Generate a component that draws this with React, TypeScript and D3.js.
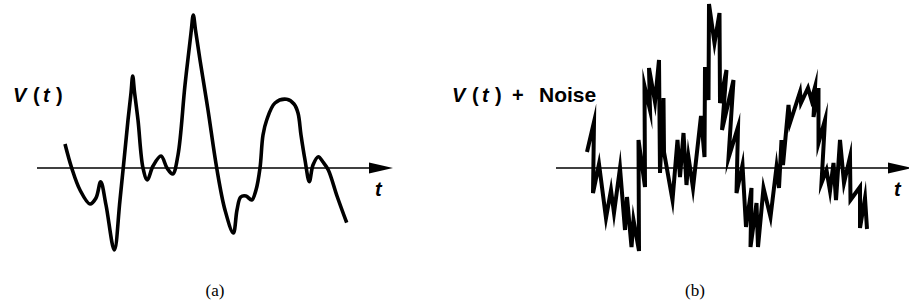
import React from "react";
import * as d3 from "d3";

// (a) smooth signal: time (px-like units from axis start) and value (above axis positive)
const tA = [28, 34.7, 43, 53, 59, 63.7, 69, 77.3, 83, 91, 94, 95.7, 97.5, 101, 106, 110.3, 116, 124, 130, 135.7, 141, 148, 154, 156.3, 158.5, 163, 171, 179.7, 188, 196.3, 200, 203.7, 209, 214.7, 219, 223, 226, 229.7, 238, 249.7, 257, 261, 264, 268, 272.3, 276, 281.3, 286, 291.3, 300, 309.7];
const vA = [24, 0, -22, -36, -30, -13.7, -37, -82, -32, 48, 75, 92, 76, 48, 0, -12, 2, 12, 0, -6, 13, 83, 135, 153, 138, 108, 58, 0, -42, -65, -42, -29, -28, -32, -22, 0, 33, 48, 65, 68.7, 64, 55, 33, 8, -13.7, 3, 11.3, 6, -2, -28, -54.7];

// (b) signal + noise
const tB = [31, 38, 37, 43, 50, 55, 58, 64, 69, 71, 75.5, 77.5, 83, 82.5, 89, 88.5, 94, 93, 99, 103, 104, 107.5, 108, 116.5, 121.5, 124, 127.5, 130.5, 132.5, 137, 145, 148.5, 149, 152.5, 153, 158.5, 163.5, 164, 170.5, 166, 177.5, 172.5, 182, 180.5, 186.5, 190, 195.5, 194.5, 200.5, 202, 207.5, 214.5, 220.5, 223, 225.5, 227, 232.5, 234, 244, 245, 252, 255.5, 259, 257.5, 262.5, 262.5, 269, 265.5, 270.5, 274, 277.5, 280, 284, 288, 294, 294.5, 304, 304, 309, 311];
const vB = [16, 46, -25, 4, -50, -22, -45, 0, -62, -29, -79, -52, -83, 28, -19, 82, 58, 100, 66, 108, -5, 70, 16, -32, 28, -9, 35, -17, 11, -20, 52, 11, 101, 68, 164, 125, 155, 65, 98, 38, 88, 10, 41, -25, 3, -59, -20, -79, -35, -79, -20, -49, 1, -20, 28, 3, 63, 45, 76, 65, 80, 68, 81, 51, 80, 25, 48, -15, -2, -23, 5, -32, 28, -15, 11, -32, -19, -60, -30, -61];

const W = 909;
const H = 307;

function Label({ x0, y, noise }: { x0: number; y: number; noise?: boolean }) {
  const base = {
    fontFamily: "'Liberation Sans', Arial, sans-serif",
    fontWeight: 700,
    fontSize: 20,
    fill: "#000",
  } as const;
  return (
    <g>
      <text x={x0} y={y} {...base} fontStyle="italic">V</text>
      <text x={x0 + 20} y={y} {...base}>(</text>
      <text x={x0 + 30} y={y} {...base} fontStyle="italic">t</text>
      <text x={x0 + 43} y={y} {...base}>)</text>
      {noise && (
        <>
          <text x={x0 + 60} y={y} {...base}>+</text>
          <text x={x0 + 87} y={y} {...base} fontSize={21}>Noise</text>
        </>
      )}
    </g>
  );
}

function Axis({ x1, x2, y }: { x1: number; x2: number; y: number }) {
  const head = 24;
  return (
    <g>
      <line x1={x1} x2={x2 - head + 2} y1={y} y2={y} stroke="#000" strokeWidth={1.4} />
      <path d={`M${x2 - head},${y - 5.5} L${x2},${y} L${x2 - head},${y + 5.5} Z`} fill="#000" />
      <text
        x={x2 - 18}
        y={y + 28}
        fontFamily="'Liberation Sans', Arial, sans-serif"
        fontWeight={700}
        fontStyle="italic"
        fontSize={20}
      >
        t
      </text>
    </g>
  );
}

export default function App() {
  const axisY = 168;
  const y = d3.scaleLinear().domain([-100, 160]).range([axisY + 100, axisY - 160]);

  const xA = d3.scaleLinear().domain([0, 356]).range([37, 393]);
  const xB = d3.scaleLinear().domain([0, 356]).range([556, 912]);

  const lineA = d3
    .line<number>()
    .x((_, i) => xA(tA[i]))
    .y((v) => y(v))
    .curve(d3.curveCatmullRom.alpha(0.5));

  const lineB = d3
    .line<number>()
    .x((_, i) => xB(tB[i]))
    .y((v) => y(v))
    .curve(d3.curveLinear);

  return (
    <svg
      width={W}
      height={H}
      style={{ position: "absolute", left: 0, top: 0, background: "#fff" }}
    >
      <rect width={W} height={H} fill="#fff" />
      <Axis x1={xA(0)} x2={xA(356)} y={axisY} />
      <Axis x1={xB(0)} x2={xB(356)} y={axisY} />
      <path d={lineA(vA) || ""} fill="none" stroke="#000" strokeWidth={3.6} strokeLinejoin="round" strokeLinecap="butt" />
      <path d={lineB(vB) || ""} fill="none" stroke="#000" strokeWidth={4} strokeLinejoin="miter" strokeMiterlimit={10} strokeLinecap="butt" />
      <Label x0={13} y={102} />
      <Label x0={452} y={102} noise />
      <text x={215} y={296} textAnchor="middle" fontFamily="'Liberation Serif', 'Times New Roman', serif" fontSize={17}>(a)</text>
      <text x={695} y={296} textAnchor="middle" fontFamily="'Liberation Serif', 'Times New Roman', serif" fontSize={17}>(b)</text>
    </svg>
  );
}
